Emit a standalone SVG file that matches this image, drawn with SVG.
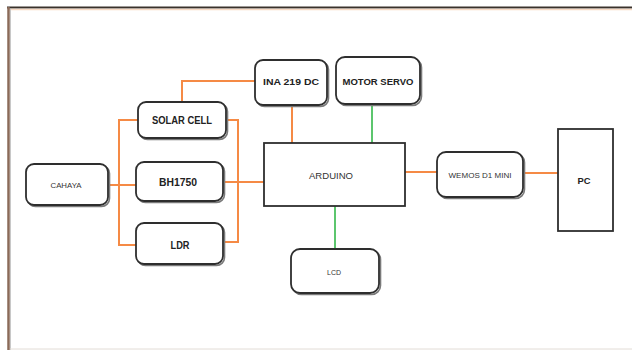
<svg xmlns="http://www.w3.org/2000/svg" width="632" height="350" viewBox="0 0 632 350">
<style>
.box{fill:#fff;stroke:#2e2e2e;stroke-width:1.8}
.sh{fill:none;stroke:#7a7a7a;stroke-width:1.6}
.o{fill:none;stroke:#f58a45;stroke-width:2}
.g{fill:none;stroke:#5cc66e;stroke-width:2}
.tb{font-family:"Liberation Sans Narrow","Liberation Sans",Arial,sans-serif;font-weight:bold;fill:#222;text-anchor:middle}
.tn{font-family:"Liberation Sans Narrow","Liberation Sans",Arial,sans-serif;fill:#333;text-anchor:middle}
</style>
<rect width="632" height="350" fill="#fff"/>
<g id="frame">
<line x1="7" y1="7.5" x2="632" y2="7.5" stroke="#3a322c" stroke-width="2"/>
<line x1="9" y1="9.5" x2="632" y2="9.5" stroke="#f7d9c4" stroke-width="1.5"/>
<line x1="8.5" y1="7" x2="8.5" y2="350" stroke="#8a6a58" stroke-width="2.5"/>
<line x1="10.5" y1="9" x2="10.5" y2="350" stroke="#c8c8c8" stroke-width="1"/>
<line x1="10" y1="349" x2="632" y2="349" stroke="#e2dcd6" stroke-width="1"/>
</g>
<g id="connectors">
<path class="o" d="M109 185H136"/>
<path class="o" d="M138 120H119V245H136"/>
<path class="o" d="M227 120H238V242H224"/>
<path class="o" d="M224 182H264"/>
<path class="o" d="M182 102V81H255"/>
<path class="o" d="M292 105V143"/>
<path class="g" d="M372 104V143"/>
<path class="o" d="M405 172H437"/>
<path class="o" d="M524 173H558"/>
<path class="g" d="M335 206V249"/>
</g>
<g id="cahaya">
<rect class="sh" x="27.5" y="165.5" width="82" height="41" rx="8"/>
<rect class="box" x="26" y="164" width="82" height="41" rx="8"/>
<text class="tn" x="66" y="187.5" font-size="7" textLength="31" lengthAdjust="spacingAndGlyphs">CAHAYA</text>
</g>
<g id="solar-cell">
<rect class="sh" x="139.5" y="103.5" width="88" height="36" rx="8"/>
<rect class="box" x="138" y="102" width="88" height="36" rx="8"/>
<text class="tb" x="182" y="123.5" font-size="10" textLength="60" lengthAdjust="spacingAndGlyphs">SOLAR CELL</text>
</g>
<g id="bh1750">
<rect class="sh" x="137.5" y="163.5" width="87" height="39" rx="8"/>
<rect class="box" x="136" y="162" width="87" height="39" rx="8"/>
<text class="tb" x="178" y="185.5" font-size="10" textLength="38" lengthAdjust="spacingAndGlyphs">BH1750</text>
</g>
<g id="ldr">
<rect class="sh" x="137.5" y="224.5" width="87" height="41" rx="8"/>
<rect class="box" x="136" y="223" width="87" height="41" rx="8"/>
<text class="tb" x="180" y="249" font-size="10" textLength="19" lengthAdjust="spacingAndGlyphs">LDR</text>
</g>
<g id="ina219">
<rect class="sh" x="256.5" y="61.5" width="72" height="45" rx="8"/>
<rect class="box" x="255" y="60" width="72" height="45" rx="8"/>
<text class="tb" x="291" y="85" font-size="9" textLength="56" lengthAdjust="spacingAndGlyphs">INA 219 DC</text>
</g>
<g id="motor-servo">
<rect class="sh" x="337.5" y="58.5" width="84" height="47" rx="9"/>
<rect class="box" x="336" y="57" width="84" height="47" rx="9"/>
<text class="tb" x="378" y="85" font-size="9" textLength="71" lengthAdjust="spacingAndGlyphs">MOTOR SERVO</text>
</g>
<g id="arduino">
<rect class="box" x="264" y="143" width="141" height="63" stroke-width="2"/>
<text class="tn" x="331" y="179" font-size="9" textLength="44" lengthAdjust="spacingAndGlyphs">ARDUINO</text>
</g>
<g id="wemos">
<rect class="sh" x="438.5" y="153.5" width="86" height="45" rx="9"/>
<rect class="box" x="437" y="152" width="86" height="45" rx="9"/>
<text class="tn" x="480" y="177.5" font-size="7" textLength="63" lengthAdjust="spacingAndGlyphs">WEMOS D1 MINI</text>
</g>
<g id="pc">
<rect class="box" x="558" y="129" width="55" height="102" stroke-width="2"/>
<text class="tb" x="584" y="184" font-size="9" textLength="13" lengthAdjust="spacingAndGlyphs">PC</text>
</g>
<g id="lcd">
<rect class="sh" x="292.5" y="250.5" width="88" height="44" rx="9"/>
<rect class="box" x="291" y="249" width="88" height="44" rx="9"/>
<text class="tn" x="334" y="275" font-size="7" textLength="14" lengthAdjust="spacingAndGlyphs">LCD</text>
</g>
</svg>
